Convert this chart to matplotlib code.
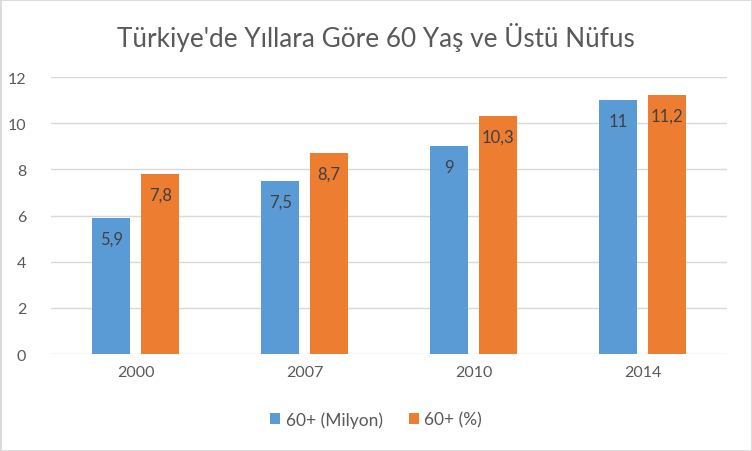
import numpy as np
import matplotlib
matplotlib.use("Agg")
import matplotlib.pyplot as plt
from matplotlib.patches import Rectangle

plt.rcParams["font.family"] = ["Lato", "DejaVu Sans"]

years = ["2000", "2007", "2010", "2014"]
milyon = [5.9, 7.5, 9, 11]
yuzde = [7.8, 8.7, 10.3, 11.2]
series_names = ["60+ (Milyon)", "60+ (%)"]
yticks = [0, 2, 4, 6, 8, 10, 12]

BLUE = "#5B9BD5"
ORANGE = "#ED7D31"
TXT = "#595959"
GRID = "#D9D9D9"


def fmt(v):
    s = f"{v:g}"
    return s.replace(".", ",")


fig = plt.figure(figsize=(7.52, 4.52), dpi=100)
fig.patches.append(Rectangle((0, 0), 1, 1, transform=fig.transFigure,
                             fill=False, edgecolor=GRID, linewidth=2))
ax = fig.add_axes([0.068, 0.2146, 0.899, 0.6128])

x = np.arange(len(years))
w = 0.225
off = 0.145
b1 = ax.bar(x - off, milyon, w, color=BLUE, label=series_names[0], zorder=3)
b2 = ax.bar(x + off, yuzde, w, color=ORANGE, label=series_names[1], zorder=3)

for bars, vals in [(b1, milyon), (b2, yuzde)]:
    for r, v in zip(bars, vals):
        ax.annotate(fmt(v), (r.get_x() + r.get_width() / 2, v),
                    xytext=(0, -9), textcoords="offset points",
                    ha="center", va="top", fontsize=12, color="#404040",
                    zorder=4)

ax.set_xlim(-0.5, len(years) - 0.5)
ax.set_ylim(0, 12)
ax.set_yticks(yticks)
ax.set_xticks(x)
ax.set_xticklabels(years)
ax.grid(axis="y", color=GRID, linewidth=1, zorder=0)
for s in ax.spines.values():
    s.set_visible(False)
ax.tick_params(length=0, labelsize=11.5, colors=TXT, pad=8)
ax.tick_params(axis="y", pad=18)

fig.text(0.5, 0.918, "Türkiye'de Yıllara Göre 60 Yaş ve Üstü Nüfus",
         ha="center", va="center", fontsize=18.8, color=TXT)

fig.legend(loc="center", bbox_to_anchor=(0.5, 0.07), ncol=2, frameon=False,
           fontsize=12.5, labelcolor=TXT, handlelength=0.6, handleheight=0.6,
           handletextpad=0.3, columnspacing=1.5)

fig.savefig("out.png", dpi=100)
